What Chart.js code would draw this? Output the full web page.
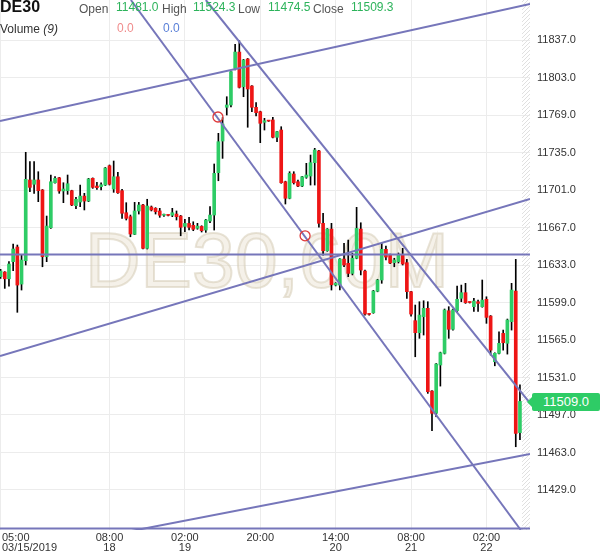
<!DOCTYPE html>
<html>
<head>
<meta charset="utf-8">
<script src="https://cdn.jsdelivr.net/npm/chart.js@4.4.1/dist/chart.umd.min.js"></script>
<style>
  body { margin: 0; background: #fff; font-family: Arial, "Liberation Sans", sans-serif; }
  #wrap { position: relative; width: 600px; height: 558px; overflow: hidden; }
  #c { position: absolute; left: 0; top: 0; }
  .t { position: absolute; font-size: 12px; line-height: 14px; white-space: nowrap; color: #555; }
  .v { color: #2db35b; }
  #badge { position: absolute; left: 532px; width: 68px; height: 18px; line-height: 18px; background: #2ecc66;
           color: #fff; font-size: 13px; text-align: center; border-radius: 2px; }
  #badge:before { content: ""; position: absolute; left: -5px; top: 4px; border-style: solid;
                  border-width: 5px 5px 5px 0; border-color: transparent #2ecc66 transparent transparent; }
</style>
</head>
<body>
<div id="wrap">
  <canvas id="c" width="600" height="558"></canvas>
  <div class="t" style="left:0;top:-2px;font-size:16px;line-height:18px;font-weight:bold;color:#111">DE30</div>
  <div class="t" style="left:79px;top:1.5px">Open</div>
  <div class="t v" id="hO" style="left:116px;top:-0.5px"></div>
  <div class="t" style="left:162px;top:1.5px">High</div>
  <div class="t v" id="hH" style="left:193px;top:-0.5px"></div>
  <div class="t" style="left:238px;top:1.5px">Low</div>
  <div class="t v" id="hL" style="left:268px;top:-0.5px"></div>
  <div class="t" style="left:313px;top:1.5px">Close</div>
  <div class="t v" id="hC" style="left:351px;top:-0.5px"></div>
  <div class="t" style="left:0;top:22px;color:#333">Volume <i>(9)</i></div>
  <div class="t" style="left:117px;top:21px;color:#f08c8c">0.0</div>
  <div class="t" style="left:163px;top:21px;color:#5b80d8">0.0</div>
  <div id="badge">11509.0</div>
</div>
<script>
// hourly candles DE30, 03/15/2019 05:00 -> 03/22/2019
const open = [11622.4,11626.6,11620.5,11636.0,11649.3,11615.7,11636.9,11710.1,11706.2,11710.1,
  11701.0,11640.5,11666.8,11707.6,11712.1,11700.1,11700.4,11700.4,11686.8,11690.1,
  11695.5,11691.0,11711.6,11704.6,11704.0,11705.5,11723.0,11701.9,11713.0,11700.4,
  11680.4,11676.8,11660.8,11682.0,11687.4,11648.1,11685.6,11684.4,11682.0,11678.1,
  11678.1,11678.1,11679.2,11677.4,11668.0,11670.7,11669.0,11666.3,11668.0,11664.7,
  11672.9,11678.3,11716.7,11745.4,11776.0,11778.1,11811.3,11826.1,11794.7,11819.8,
  11795.3,11776.0,11772.0,11762.4,11763.8,11764.5,11748.8,11755.4,11708.5,11693.5,
  11715.5,11708.5,11704.6,11712.5,11713.7,11725.8,11736.4,11670.8,11645.9,11665.6,
  11614.8,11614.8,11638.4,11634.5,11625.4,11639.1,11665.6,11627.5,11588.5,11589.7,
  11609.2,11619.4,11647.2,11642.0,11635.1,11636.0,11642.0,11635.1,11608.8,11582.5,
  11571.6,11586.1,11593.7,11518.7,11498.5,11542.3,11552.9,11591.5,11574.7,11591.5,
  11602.8,11607.9,11599.2,11595.2,11599.7,11595.2,11601.9,11586.7,11545.3,11552.9,
  11571.0,11562.0,11581.6,11609.4,11481.0];
const high = [11629.1,11627.0,11636.0,11652.0,11651.1,11642.0,11735.2,11726.7,11726.7,11717.6,
  11701.5,11677.4,11714.6,11713.1,11712.5,11707.6,11714.6,11700.8,11694.4,11705.5,
  11698.0,11711.6,11712.0,11708.0,11707.6,11721.5,11723.7,11727.3,11717.0,11701.6,
  11689.5,11678.3,11689.8,11689.8,11688.0,11692.6,11686.5,11685.0,11684.4,11679.2,
  11678.6,11684.4,11682.0,11678.0,11674.4,11676.2,11672.2,11670.8,11668.6,11674.4,
  11685.9,11724.6,11752.4,11766.6,11785.6,11808.5,11833.1,11836.4,11819.5,11820.3,
  11795.8,11780.2,11772.5,11766.0,11764.2,11766.9,11754.3,11758.4,11709.0,11717.6,
  11717.6,11710.1,11713.5,11725.2,11732.7,11738.8,11736.9,11679.9,11666.1,11670.8,
  11617.0,11638.9,11652.6,11655.6,11643.6,11685.3,11671.3,11628.4,11589.0,11610.0,
  11620.0,11652.6,11650.2,11643.0,11639.1,11643.9,11648.1,11638.1,11609.2,11596.7,
  11599.7,11600.6,11599.7,11519.2,11543.7,11554.0,11593.1,11595.2,11593.0,11613.9,
  11614.8,11616.4,11599.5,11602.8,11601.2,11619.4,11604.2,11587.2,11553.4,11572.5,
  11574.0,11584.0,11616.4,11638.1,11524.3];
const low = [11620.9,11611.8,11613.9,11627.8,11590.1,11610.3,11633.0,11699.4,11698.0,11690.4,
  11631.4,11636.0,11666.2,11707.1,11698.0,11689.5,11697.1,11686.8,11684.0,11685.9,
  11682.9,11690.4,11702.5,11701.6,11701.0,11705.0,11705.5,11698.9,11698.0,11675.3,
  11673.8,11658.6,11660.5,11679.2,11647.5,11647.5,11682.0,11679.2,11676.2,11677.1,
  11677.6,11676.8,11673.8,11659.5,11663.2,11664.7,11664.1,11665.4,11662.9,11662.6,
  11671.3,11664.7,11709.4,11729.7,11769.0,11776.3,11809.8,11793.5,11785.6,11757.9,
  11772.0,11768.1,11743.9,11755.4,11763.2,11748.3,11744.8,11707.1,11688.3,11693.0,
  11706.4,11704.0,11704.0,11711.6,11705.5,11705.5,11667.2,11642.0,11645.4,11610.3,
  11614.0,11610.3,11631.4,11622.4,11624.0,11638.6,11624.0,11587.6,11587.6,11589.2,
  11608.7,11616.4,11637.5,11634.3,11631.4,11634.8,11633.0,11602.8,11586.7,11549.8,
  11566.5,11569.5,11516.6,11482.7,11495.4,11523.2,11552.3,11566.5,11574.0,11589.7,
  11599.7,11598.2,11598.5,11590.9,11590.9,11594.7,11580.1,11551.3,11541.6,11552.4,
  11555.8,11552.2,11574.0,11468.2,11474.5];
const close = [11627.5,11620.5,11633.9,11647.5,11614.8,11637.5,11710.7,11703.4,11710.1,11700.4,
  11640.5,11668.3,11708.5,11711.6,11700.1,11701.9,11706.7,11687.4,11692.6,11695.5,
  11691.0,11711.0,11703.4,11703.1,11705.8,11720.9,11706.2,11713.0,11698.5,11679.9,
  11675.3,11661.1,11682.0,11687.4,11648.1,11686.5,11682.9,11681.3,11678.1,11678.3,
  11678.0,11680.4,11676.8,11667.2,11670.7,11667.2,11665.4,11668.3,11664.1,11673.8,
  11678.3,11716.1,11744.8,11760.8,11778.1,11808.3,11826.1,11794.1,11818.9,11792.6,
  11776.0,11771.1,11761.5,11763.8,11763.5,11748.8,11753.9,11707.6,11693.5,11716.1,
  11707.6,11704.6,11713.0,11714.6,11725.8,11737.3,11670.8,11645.9,11665.6,11615.1,
  11616.4,11638.4,11633.0,11625.4,11639.1,11666.2,11628.4,11588.5,11588.2,11609.4,
  11619.4,11647.2,11640.2,11634.8,11637.5,11642.0,11633.9,11608.8,11588.5,11571.6,
  11587.6,11593.7,11518.1,11498.5,11543.2,11553.4,11592.2,11574.7,11592.2,11601.9,
  11607.9,11598.8,11599.0,11600.3,11598.2,11601.2,11585.5,11555.8,11552.9,11562.0,
  11562.5,11583.1,11610.3,11480.3,11509.3];

// x axis: candle index of each labelled hour
const tickIdx = [0, 26, 44, 62, 80, 98, 116];
const timeLabels = ['05:00', '08:00', '02:00', '20:00', '14:00', '08:00', '02:00'];
const dateLabels = ['03/15/2019', '18', '19', '', '20', '21', '22'];
const priceTicks = [11429, 11463, 11497, 11531, 11565, 11599, 11633, 11667, 11701, 11735, 11769, 11803, 11837];

// drawn objects, in (candle index, price)
const trendLines = [
  [[-0.14, 11763.6], [126.4, 11869.7]],
  [[31.1, 11873.3], [124.2, 11392.7]],
  [[49.0, 11873.3], [126.4, 11507.8]],
  [[-0.14, 11550.4], [126.4, 11692.8]],
  [[21.3, 11384.5], [126.4, 11461.6]],
  [[-1, 11642.5], [130, 11642.5]],
  [[-1, 11394.0], [130, 11394.0]]
];
const markers = [[51.9, 11767.2], [72.7, 11659.5]];
const lastPrice = 11509.0;

const GREEN = '#2ecc66', RED = '#ee1515', LINE = '#7676ba';
const FONT = 'Arial, "Liberation Sans", sans-serif';
const last = open.length - 1;
document.getElementById('hO').textContent = open[last].toFixed(1);
document.getElementById('hH').textContent = high[last].toFixed(1);
document.getElementById('hL').textContent = low[last].toFixed(1);
document.getElementById('hC').textContent = close[last].toFixed(1);

const bodies = open.map((o, i) => ({ x: i, y: [o, close[i]] }));
const wicks = open.map((o, i) => ({ x: i, y: [low[i], high[i]] }));
const candleColors = open.map((o, i) => close[i] >= o ? GREEN : RED);

const datasets = [
  { type: 'bar', data: bodies, backgroundColor: candleColors, barThickness: 3, minBarLength: 1,
    grouped: false, borderWidth: 0, order: 2 },
  { type: 'bar', data: wicks, backgroundColor: '#000', barThickness: 1, grouped: false,
    borderWidth: 0, order: 3 }
];
trendLines.forEach(l => datasets.push({
  type: 'line', data: l.map(p => ({ x: p[0], y: p[1] })), borderColor: LINE, borderWidth: 2,
  pointRadius: 0, fill: false, order: 1
}));
datasets.push({
  type: 'line', data: markers.map(p => ({ x: p[0], y: p[1] })), showLine: false,
  pointRadius: 5, pointBorderColor: '#e03a3a', pointBackgroundColor: 'rgba(0,0,0,0)',
  pointBorderWidth: 1.3, order: 0
});

const decor = {
  id: 'decor',
  beforeDatasetsDraw(chart) {
    const { ctx, chartArea: a } = chart;
    ctx.save();
    // watermark
    ctx.font = '77px ' + FONT;
    ctx.fillStyle = 'rgba(232,224,206,0.45)';
    ctx.strokeStyle = 'rgba(214,204,182,0.55)';
    ctx.lineWidth = 2;
    ctx.fillText('DE30,60M', 85, 287);
    ctx.strokeText('DE30,60M', 85, 287);
    // hatched future area
    ctx.beginPath();
    ctx.rect(a.right - 8, a.top, 8, a.bottom - a.top);
    ctx.clip();
    ctx.strokeStyle = '#e0e0e0';
    ctx.lineWidth = 1;
    ctx.beginPath();
    for (let y = a.top - 10; y < a.bottom + 10; y += 4) {
      ctx.moveTo(a.right - 8, y + 8);
      ctx.lineTo(a.right, y);
    }
    ctx.stroke();
    ctx.restore();
  },
  afterDraw(chart) {
    const ctx = chart.ctx, xs = chart.scales.x;
    ctx.save();
    ctx.font = '11px ' + FONT;
    ctx.fillStyle = '#333';
    ctx.textBaseline = 'middle';
    tickIdx.forEach((v, i) => {
      const x = xs.getPixelForValue(v);
      ctx.textAlign = i === 0 ? 'left' : 'center';
      const px = i === 0 ? 2 : x;
      ctx.fillText(timeLabels[i], px, 538);
      if (dateLabels[i]) ctx.fillText(dateLabels[i], px, 548);
    });
    ctx.restore();
  }
};

const chart = new Chart(document.getElementById('c'), {
  type: 'bar',
  data: { datasets: datasets },
  options: {
    responsive: false,
    animation: false,
    devicePixelRatio: 1,
    layout: { padding: 0, autoPadding: false },
    plugins: { legend: { display: false }, tooltip: { enabled: false } },
    scales: {
      x: {
        type: 'linear', min: -0.14, max: 126.4, offset: false,
        grid: { color: '#ececec', offset: false, drawTicks: false },
        border: { display: false },
        ticks: { display: false },
        afterBuildTicks: s => { s.ticks = tickIdx.map(v => ({ value: v })); },
        afterFit: s => { s.height = 28; s.paddingLeft = 0; s.paddingRight = 0; }
      },
      y: {
        type: 'linear', position: 'right', min: 11392.7, max: 11873.3,
        grid: { color: '#ececec', drawTicks: false },
        border: { display: false },
        ticks: { color: '#333', padding: 7, font: { size: 11, family: FONT },
                 callback: v => v.toFixed(1) },
        afterBuildTicks: s => { s.ticks = priceTicks.map(v => ({ value: v })); },
        afterFit: s => { s.width = 70; s.paddingTop = 0; s.paddingBottom = 0; }
      }
    }
  },
  plugins: [decor]
});

const by = chart.scales.y.getPixelForValue(lastPrice);
document.getElementById('badge').style.top = (by - 9) + 'px';
</script>
</body>
</html>
